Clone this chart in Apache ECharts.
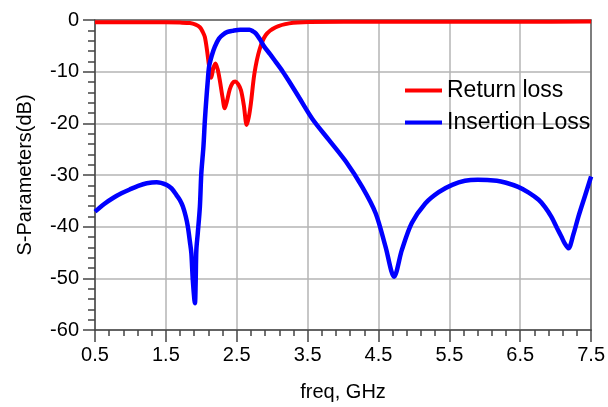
<!DOCTYPE html>
<html>
<head>
<meta charset="utf-8">
<script src="https://cdn.jsdelivr.net/npm/echarts@6/dist/echarts.min.js"></script>
<style>html,body{margin:0;padding:0;background:#fff;}#c{width:608px;height:407px;}</style>
</head>
<body>
<div id="c"></div>
<script>
const xTicks = ['0.5','1.5','2.5','3.5','4.5','5.5','6.5','7.5'];
const yTicks = ['0','-10','-20','-30','-40','-50','-60'];

const rlFreq = [0.5,1.0,1.5,1.7,1.84,1.92,1.98,2.02,2.05,2.08,2.11,2.14,2.17,2.20,2.23,2.26,2.30,2.33,2.36,2.40,2.44,2.48,2.52,2.56,2.60,2.64,2.67,2.70,2.75,2.82,2.91,3.05,3.24,3.52,4.5,5.5,6.5,7.5];
const rlDb   = [-0.45,-0.45,-0.45,-0.5,-0.6,-0.9,-1.4,-2.3,-3.3,-5.8,-9.0,-11.2,-9.3,-8.4,-9.5,-11.6,-15.0,-17.1,-15.8,-13.5,-12.2,-11.9,-12.4,-13.6,-16.5,-20.3,-18.8,-16.1,-10.3,-5.8,-2.9,-1.4,-0.65,-0.4,-0.35,-0.35,-0.35,-0.3];

const ilFreq = [0.5,0.63,0.76,0.88,0.99,1.11,1.23,1.37,1.51,1.58,1.65,1.70,1.74,1.78,1.81,1.84,1.86,1.88,1.91,1.92,1.93,1.95,1.98,2.0,2.03,2.05,2.07,2.09,2.11,2.15,2.19,2.25,2.30,2.37,2.44,2.55,2.68,2.73,2.77,2.83,2.89,2.97,3.05,3.15,3.24,3.38,3.57,3.80,4.04,4.27,4.46,4.60,4.72,4.83,4.97,5.16,5.35,5.54,5.72,5.90,6.17,6.30,6.47,6.62,6.76,6.85,6.94,7.02,7.08,7.13,7.18,7.25,7.32,7.41,7.5];
const ilDb   = [-37.1,-35.6,-34.4,-33.5,-32.8,-32.1,-31.6,-31.4,-31.9,-32.6,-33.9,-34.9,-36.1,-38.0,-40.0,-43.0,-45.2,-50.3,-54.8,-51.0,-44.5,-41.3,-36.1,-29.7,-24.5,-19.5,-15.5,-12.0,-9.0,-6.8,-5.2,-3.6,-2.9,-2.3,-2.1,-1.9,-1.9,-2.2,-2.6,-3.8,-5.2,-6.6,-8.1,-10.0,-11.9,-15.0,-19.2,-23.2,-27.4,-32.3,-37.4,-43.9,-49.7,-44.5,-39.3,-35.5,-33.3,-31.9,-31.1,-30.9,-31.1,-31.5,-32.3,-33.4,-34.8,-36.2,-38.1,-40.3,-41.9,-43.3,-44.2,-41.5,-38.1,-34.2,-30.3];

const font = 'Liberation Sans, Arial, sans-serif';
const gridColor = '#b4b4b4';
const borderAxis = {
  axisLine: {show: true, onZero: false, lineStyle: {color: '#666', width: 1.5}},
  axisTick: {show: false}, axisLabel: {show: false}, splitLine: {show: false}, minorTick: {show: false}
};
const chart = echarts.init(document.getElementById('c'), null, {renderer: 'canvas'});
chart.setOption({
  animation: false,
  backgroundColor: '#fff',
  grid: {left: 95, right: 15, top: 20, bottom: 77},
  legend: {
    orient: 'vertical', left: 405, top: 77, padding: 0, itemWidth: 37, itemHeight: 4, itemGap: 5, icon: 'rect',
    textStyle: {fontFamily: font, fontSize: 23, color: '#000', lineHeight: 27},
    data: ['Return loss', 'Insertion Loss']
  },
  xAxis: [{
    type: 'value', min: 0.5, max: 7.5, interval: 1, position: 'bottom',
    name: 'freq, GHz', nameLocation: 'middle', nameGap: 52,
    nameTextStyle: {fontFamily: font, fontSize: 20, color: '#000'},
    axisLine: {show: true, onZero: false, lineStyle: {color: '#444', width: 1.5}},
    axisTick: {show: true, inside: false, length: 12, lineStyle: {color: '#444', width: 1.5}},
    minorTick: {show: true, splitNumber: 5, length: 6, lineStyle: {color: '#444', width: 1.5}},
    axisLabel: {fontFamily: font, fontSize: 20, color: '#000', margin: 15,
      formatter: v => { const s = v.toFixed(1); return xTicks.indexOf(s) >= 0 ? s : ''; }},
    splitLine: {show: true, lineStyle: {color: gridColor, width: 1.5, type: 'solid'}}
  }, Object.assign({type: 'value', min: 0.5, max: 7.5, interval: 1, position: 'top'}, borderAxis)],
  yAxis: [{
    type: 'value', min: -60, max: 0, interval: 10, position: 'left',
    name: 'S-Parameters(dB)', nameLocation: 'middle', nameGap: 60, nameRotate: 90,
    nameTextStyle: {fontFamily: font, fontSize: 20, color: '#000'},
    axisLine: {show: true, onZero: false, lineStyle: {color: '#444', width: 1.5}},
    axisTick: {show: true, inside: false, length: 12, lineStyle: {color: '#444', width: 1.5}},
    minorTick: {show: true, splitNumber: 5, length: 7, lineStyle: {color: '#444', width: 1.5}},
    axisLabel: {fontFamily: font, fontSize: 20, color: '#000', margin: 16,
      formatter: v => { const s = String(Math.round(v)); return yTicks.indexOf(s) >= 0 ? s : ''; }},
    splitLine: {show: true, lineStyle: {color: gridColor, width: 1.5, type: 'solid'}}
  }, Object.assign({type: 'value', min: -60, max: 0, interval: 10, position: 'right'}, borderAxis)],
  series: [
    {name: 'Return loss', type: 'line', showSymbol: false, smooth: 0.3, color: '#ff0000',
     lineStyle: {width: 4, color: '#ff0000'},
     data: rlFreq.map((f, i) => [f, rlDb[i]])},
    {name: 'Insertion Loss', type: 'line', showSymbol: false, smooth: 0.3, color: '#0000ff',
     lineStyle: {width: 4.5, color: '#0000ff'},
     data: ilFreq.map((f, i) => [f, ilDb[i]])}
  ]
});
</script>
</body>
</html>
